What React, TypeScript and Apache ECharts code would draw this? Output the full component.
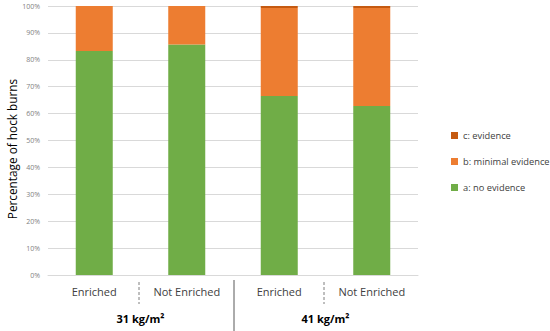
import React, { useEffect, useRef } from "react";
import * as echarts from "echarts";

const categories = ["Enriched", "Not Enriched", "Enriched", "Not Enriched"];
const groups = ["31 kg/m²", "41 kg/m²"];
const noEvidence = [83.3, 85.7, 66.5, 62.8];
const minimalEvidence = [16.7, 14.3, 32.8, 36.5];
const evidence = [0, 0, 0.7, 0.7];

export default function App() {
  const ref = useRef<HTMLDivElement>(null);
  useEffect(() => {
    const chart = echarts.init(ref.current!, null, { renderer: "svg" });
    const font = "'Open Sans', 'Noto Sans', sans-serif";
    chart.setOption({
      animation: false,
      textStyle: { fontFamily: font },
      grid: { left: 48, right: 132, top: 6, bottom: 56, outerBoundsMode: "none", containLabel: false },
      legend: {
        orient: "vertical",
        left: 446,
        top: 126,
        itemGap: 17,
        itemWidth: 7,
        itemHeight: 7,
        icon: "rect",
        textStyle: { fontSize: 9.3, color: "#404040", fontFamily: font },
        data: ["c: evidence", "b: minimal evidence", "a: no evidence"],
      },
      xAxis: [
        {
          type: "category",
          data: categories,
          axisLine: { lineStyle: { color: "#d9d9d9" } },
          axisTick: { show: false },
          axisLabel: { fontSize: 11, color: "#404040", margin: 11, fontFamily: font },
        },
        {
          type: "category",
          data: groups,
          position: "bottom",
          offset: 30,
          axisLine: { show: false },
          axisTick: { show: false },
          axisLabel: { fontSize: 11, fontWeight: "bold", color: "#000", margin: 8, fontFamily: font },
        },
      ],
      yAxis: {
        type: "value",
        min: 0,
        max: 100,
        interval: 10,
        axisLabel: { formatter: "{value}%", fontSize: 7, color: "#7f7f7f", fontFamily: font, margin: 8 },
        splitLine: { lineStyle: { color: "#d9d9d9" } },
        axisLine: { show: false },
        axisTick: { show: false },
      },
      series: [
        {
          name: "a: no evidence",
          type: "bar",
          stack: "s",
          data: noEvidence,
          barWidth: 37,
          itemStyle: { color: "#70AD47" },
        },
        {
          name: "b: minimal evidence",
          type: "bar",
          stack: "s",
          data: minimalEvidence,
          itemStyle: { color: "#ED7D31" },
        },
        {
          name: "c: evidence",
          type: "bar",
          stack: "s",
          data: evidence,
          itemStyle: { color: "#C55A11" },
        },
      ],
      graphic: [
        {
          type: "text",
          x: 12,
          y: 149,
          rotation: Math.PI / 2,
          style: {
            text: "Percentage of hock burns",
            fontSize: 11.8,
            fill: "#000",
            fontFamily: font,
            align: "center",
            verticalAlign: "middle",
          },
        },
        { type: "line", shape: { x1: 139, y1: 282, x2: 139, y2: 304 }, style: { stroke: "#7f7f7f", lineWidth: 1, lineDash: [3, 2] } },
        { type: "line", shape: { x1: 324, y1: 282, x2: 324, y2: 304 }, style: { stroke: "#7f7f7f", lineWidth: 1, lineDash: [3, 2] } },
        { type: "line", shape: { x1: 234, y1: 280, x2: 234, y2: 331 }, style: { stroke: "#595959", lineWidth: 1 } },
      ],
    });
    return () => chart.dispose();
  }, []);
  return <div ref={ref} style={{ width: 550, height: 331, position: "absolute", left: 0, top: 0 }} />;
}
